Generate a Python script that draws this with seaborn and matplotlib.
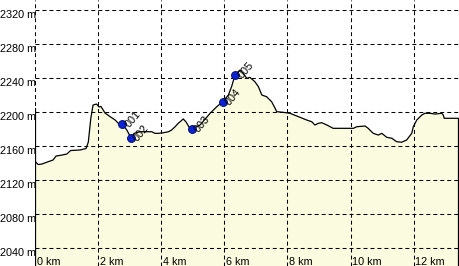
import matplotlib
matplotlib.use("Agg")
import matplotlib.pyplot as plt
import matplotlib.transforms as mtransforms
import seaborn as sns
import pandas as pd

# Elevation profile (distance in km, elevation in m)
dist_km = [0.02, 0.10, 0.22, 0.35, 0.57, 0.67, 0.86, 1.01, 1.13, 1.43, 1.62, 1.69, 1.73, 1.77,
           1.84, 1.95, 2.03, 2.09, 2.16, 2.22, 2.38, 2.54, 2.64, 2.77, 2.91, 3.04, 3.14, 3.33,
           3.70, 3.80, 3.91, 4.07, 4.23, 4.33, 4.44, 4.54, 4.70, 4.79, 4.88, 4.97, 5.23, 5.55,
           5.76, 5.95, 6.13, 6.23, 6.34, 6.43, 6.50, 6.60, 6.71, 6.81, 6.97, 7.08, 7.19, 7.34,
           7.50, 7.61, 7.66, 7.87, 8.08, 8.35, 8.61, 8.77, 8.87, 8.98, 9.09, 9.25, 9.45, 9.67,
           10.09, 10.20, 10.46, 10.56, 10.72, 10.88, 10.99, 11.15, 11.31, 11.46, 11.62, 11.78,
           11.94, 11.99, 12.10, 12.26, 12.36, 12.52, 12.68, 12.89, 12.94, 12.97, 13.42]
elev_m = [2141.2, 2138.2, 2138.8, 2140.6, 2143.5, 2148.2, 2149.4, 2150.6, 2154.7, 2155.3, 2157.1,
          2164.7, 2178.8, 2192.9, 2208.2, 2209.4, 2205.9, 2206.5, 2202.4, 2198.8, 2194.5, 2190.6,
          2186.7, 2185.5, 2178.8, 2169.8, 2174.9, 2176.8, 2176.8, 2174.9, 2174.9, 2175.6, 2176.8,
          2178.8, 2182.7, 2186.7, 2191.8, 2188.2, 2182.4, 2179.6, 2184.7, 2198.5, 2206.2, 2212.1,
          2220.0, 2229.8, 2243.5, 2247.1, 2249.4, 2245.5, 2239.6, 2240.8, 2235.6, 2229.8, 2220.0,
          2218.0, 2212.1, 2204.4, 2200.4, 2199.6, 2198.5, 2194.5, 2190.6, 2188.6, 2184.7, 2186.7,
          2187.4, 2184.7, 2180.8, 2180.8, 2180.8, 2182.7, 2183.5, 2180.8, 2174.9, 2172.9, 2174.9,
          2170.2, 2169.1, 2165.1, 2164.4, 2167.1, 2174.9, 2182.7, 2190.6, 2196.5, 2198.5, 2198.5,
          2197.6, 2198.5, 2196.5, 2192.6, 2192.6]

# Waypoints
wp_names = ["001", "002", "003", "004", "005"]
wp_km = [2.77, 3.04, 4.97, 5.95, 6.34]
wp_elev = [2185.5, 2169.8, 2179.6, 2212.1, 2243.5]

# Ticks
x_ticks = [0, 2, 4, 6, 8, 10, 12]
x_labels = ["0 km", "2 km", "4 km", "6 km", "8 km", "10 km", "12 km"]
y_ticks = [2040, 2080, 2120, 2160, 2200, 2240, 2280, 2320]
y_labels = ["2040 m", "2080 m", "2120 m", "2160 m", "2200 m", "2240 m", "2280 m", "2320 m"]

sns.set_theme(style="white")
plt.rcParams["font.family"] = ["Liberation Sans", "DejaVu Sans"]

prof = pd.DataFrame({"km": dist_km, "elev": elev_m})
wps = pd.DataFrame({"km": wp_km, "elev": wp_elev, "name": wp_names})

W, H = 460, 266
fig = plt.figure(figsize=(W / 100, H / 100), dpi=100)
ax = fig.add_axes([35 / W, 0, 1 - 35 / W, 1])
ymin, ymax = 2018.8, 2331.8
ax.set_xlim(0, 13.47)
ax.set_ylim(ymin, ymax)

fill_col = "#fbfbdf"
ax.fill_between(prof["km"], prof["elev"], ymin, color=fill_col, lw=0, zorder=1)

dash = (0, (3.8, 2.9))
for xt in x_ticks:
    ax.axvline(xt, color="black", lw=0.75, linestyle=dash, zorder=2)
for yt in y_ticks:
    ax.axhline(yt, color="black", lw=0.75, linestyle=dash, zorder=2)

sns.lineplot(data=prof, x="km", y="elev", ax=ax, color="black", lw=0.9,
             sort=False, estimator=None, zorder=3)
ax.vlines(dist_km[-1], ymin, elev_m[-1], color="black", lw=0.9, zorder=3)
ax.vlines(0, ymin, 2204.7, color="black", lw=1.6, zorder=4)

sns.scatterplot(data=wps, x="km", y="elev", ax=ax, color="#0b22d8", edgecolor="#00106a",
                linewidth=0.7, s=32, zorder=5, legend=False)
for n, xk, ye in zip(wp_names, wp_km, wp_elev):
    ax.annotate(n, (xk, ye), xytext=(3.5, -1.5), textcoords="offset points",
                rotation=50, rotation_mode="anchor", ha="left", va="center",
                fontsize=7.8, color="black", zorder=6)

for s in ax.spines.values():
    s.set_visible(False)
ax.set_xlabel("")
ax.set_ylabel("")
ax.set_xticks([])
ax.set_yticks([])

# x labels inside the plot, at the bottom edge
tx = mtransforms.blended_transform_factory(ax.transData, ax.transAxes)
for xt, lbl in zip(x_ticks, x_labels):
    ax.text(xt + 1.5 / 31.55, 1.2 / H, lbl, transform=tx, ha="left", va="baseline",
            fontsize=7.8, color="black", zorder=7)
# y labels to the left, just below each grid line
ty = mtransforms.blended_transform_factory(ax.transAxes, ax.transData)
for yt, lbl in zip(y_ticks, y_labels):
    ax.text(1.5 / (W - 35), yt, lbl, transform=ty, ha="right", va="top",
            fontsize=7.8, color="black", zorder=7, clip_on=False)

ax.set_facecolor("white")
fig.patch.set_facecolor("white")

fig.savefig("out.png", dpi=100)
